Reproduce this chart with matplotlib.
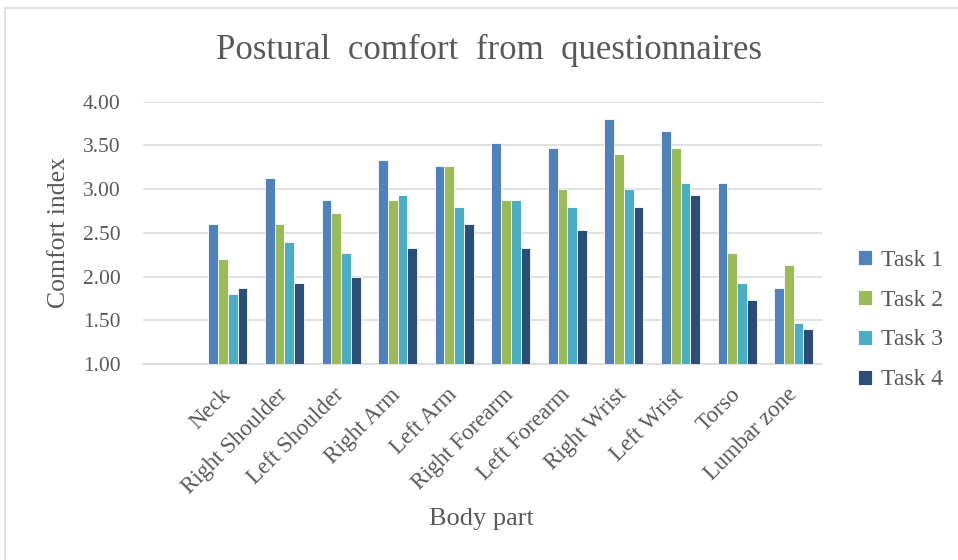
import numpy as np
import matplotlib
matplotlib.use('Agg')
import matplotlib.pyplot as plt
from matplotlib.lines import Line2D

# Data (comfort index per body part)
body_parts = ['Neck', 'Right Shoulder', 'Left Shoulder', 'Right Arm', 'Left Arm',
              'Right Forearm', 'Left Forearm', 'Right Wrist', 'Left Wrist', 'Torso',
              'Lumbar zone']
task1 = [2.60, 3.13, 2.87, 3.33, 3.27, 3.53, 3.47, 3.80, 3.67, 3.07, 1.87]
task2 = [2.20, 2.60, 2.73, 2.87, 3.27, 2.87, 3.00, 3.40, 3.47, 2.27, 2.13]
task3 = [1.80, 2.40, 2.27, 2.93, 2.80, 2.87, 2.80, 3.00, 3.07, 1.93, 1.47]
task4 = [1.87, 1.93, 2.00, 2.33, 2.60, 2.33, 2.53, 2.80, 2.93, 1.73, 1.40]
task_names = ['Task 1', 'Task 2', 'Task 3', 'Task 4']
y_ticks = [1.00, 1.50, 2.00, 2.50, 3.00, 3.50, 4.00]

colors = ['#4F81BD', '#9BBB59', '#4BACC6', '#2C4D75']
text_color = '#595959'
grid_color = '#D9D9D9'

plt.rcParams['font.family'] = ['Liberation Serif', 'DejaVu Serif']

fig = plt.figure(figsize=(9.58, 5.6), dpi=100)
ax = fig.add_axes([143 / 958, 1 - 364 / 560, (822 - 143) / 958, (364 - 101.7) / 560])

x = np.arange(len(body_parts))
bar_w = 0.172
for i, (vals, name) in enumerate(zip([task1, task2, task3, task4], task_names)):
    ax.bar(x + (i - 1.5) * bar_w, np.array(vals) - 1.0, bottom=1.0, width=bar_w,
           color=colors[i], edgecolor='white', linewidth=0.6, label=name, zorder=3)

## Axis
ax.set_ylim(1.0, 4.0)
ax.set_xlim(-1.5, len(body_parts) - 0.5)
ax.set_yticks(y_ticks)
ax.set_yticklabels([f'{v:.2f}' for v in y_ticks])
ax.set_xticks(x)
ax.set_xticklabels(body_parts, rotation=45, ha='right', va='center',
                   rotation_mode='anchor')
ax.tick_params(axis='y', length=0, pad=16, labelsize=15.5, labelcolor=text_color)
ax.tick_params(axis='x', length=0, pad=20, labelsize=16.5, labelcolor=text_color)

ax.yaxis.grid(True, color=grid_color, linewidth=1.1, zorder=0)
ax.set_axisbelow(True)
for side in ['top', 'right', 'left']:
    ax.spines[side].set_visible(False)
ax.spines['bottom'].set_color(grid_color)
ax.spines['bottom'].set_linewidth(1.1)

fig.text(59 / 958, 1 - 232 / 560, 'Comfort index', rotation=90, ha='center', va='center',
         fontsize=18.5, color=text_color)
fig.text(481 / 958, 1 - 519 / 560, 'Body part', ha='center', va='center',
         fontsize=19, color=text_color)

## Title
fig.text(489 / 958, 1 - 50 / 560, 'Postural  comfort  from  questionnaires',
         ha='center', va='center', fontsize=25, color=text_color)

## Legend
ax.legend(loc='center left', bbox_to_anchor=(837 / 958, 1 - 320 / 560),
          bbox_transform=fig.transFigure, frameon=False, fontsize=17,
          labelcolor=text_color, handlelength=0.6, handleheight=0.6,
          handletextpad=0.35, labelspacing=0.8)

## Outer frame (top and left edges visible)
fig.add_artist(Line2D([5 / 958, 5 / 958], [0, 1 - 8 / 560], transform=fig.transFigure,
                      color='#D9D9D9', linewidth=1.2))
fig.add_artist(Line2D([5 / 958, 1], [1 - 8 / 560, 1 - 8 / 560], transform=fig.transFigure,
                      color='#D9D9D9', linewidth=1.2))

fig.savefig('out.png', dpi=100)
